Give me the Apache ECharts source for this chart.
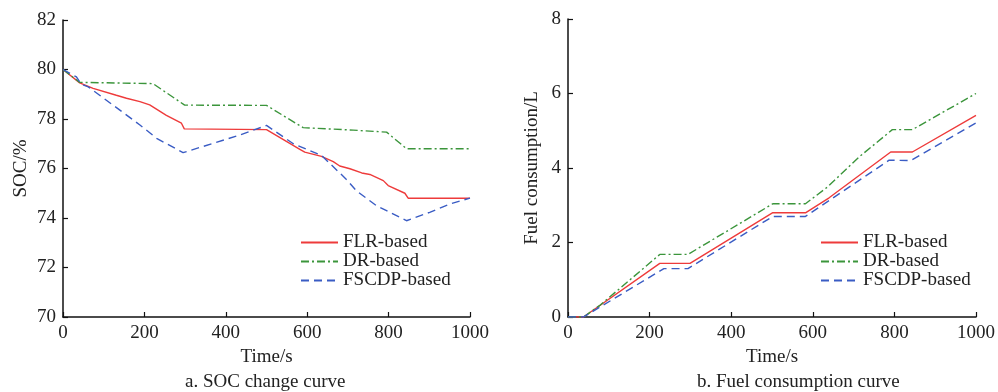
<!DOCTYPE html>
<html><head><meta charset="utf-8">
<script src="https://cdn.jsdelivr.net/npm/echarts@6/dist/echarts.min.js"></script>
<style>html,body{margin:0;padding:0;background:#fff}#c{width:998px;height:392px}</style>
</head><body><div id="c"></div>
<script>
// ---- Data: SOC (left) ----
const socFlrT = [0,41,74,131,156,189,213,254,291,298,500,582,594,635,664,680,705,734,754,787,799,840,848,1000];
const socFlrV = [80,79.46,79.24,78.96,78.84,78.7,78.57,78.15,77.83,77.6,77.57,76.77,76.66,76.49,76.28,76.1,75.99,75.82,75.76,75.51,75.31,75.0,74.8,74.8];
const socDrT = [0,41,221,299,500,590,713,795,844,1000];
const socDrV = [80,79.48,79.43,78.56,78.55,77.65,77.55,77.47,76.8,76.8];
const socFsT = [0,33,45,62,189,230,295,434,500,566,635,697,721,770,795,844,901,951,1000];
const socFsV = [80,79.7,79.4,79.3,77.76,77.22,76.64,77.35,77.74,77.0,76.53,75.55,75.1,74.5,74.3,73.89,74.23,74.57,74.8];
// ---- Data: Fuel (right) ----
const fuelFlrT = [0,38,225,299,502,583,640,791,844,1000];
const fuelFlrV = [0,0,1.44,1.44,2.8,2.8,3.2,4.43,4.43,5.41];
const fuelDrT = [0,38,79,225,294,502,582,636,714,795,844,1000];
const fuelDrV = [0,0,0.32,1.68,1.68,3.04,3.04,3.49,4.3,5.03,5.03,6.0];
const fuelFsT = [0,38,235,294,502,582,787,840,1000];
const fuelFsV = [0,0,1.3,1.3,2.7,2.7,4.21,4.2,5.21];
// ---- Labels ----
const names = ['FLR-based','DR-based','FSCDP-based'];
const xName = 'Time/s';
const yNameL = 'SOC/%';
const yNameR = 'Fuel consumption/L';
const capL = 'a. SOC change curve';
const capR = 'b. Fuel consumption curve';

const zip = (t, v) => t.map((x, i) => [x, v[i]]);
const FONT = "'Liberation Serif','Times New Roman',serif";
const colors = ['#ee3b3b', '#3b953b', '#3a5cc4'];
const styles = ['solid', [8,3,2,3], [8,5]];

const axisCommon = {
  axisLine: {show: true, onZero: false, lineStyle: {color: '#111', width: 1.5}},
  axisTick: {show: true, inside: true, length: 5, lineStyle: {color: '#111', width: 1.2}},
  splitLine: {show: false},
  axisLabel: {color: '#222', fontFamily: FONT, fontSize: 19, margin: 7, formatter: v => String(v)},
  nameTextStyle: {color: '#222', fontFamily: FONT, fontSize: 19}
};

function mkSeries(name, i, data, gi) {
  return {
    name, type: 'line', xAxisIndex: gi, yAxisIndex: gi, data,
    symbol: 'none', showSymbol: false, animation: false,
    lineStyle: {color: colors[i], width: 1.4, type: styles[i]},
    itemStyle: {color: colors[i]}
  };
}

const legendCommon = {orient: 'vertical', top: 233, padding: 0, itemGap: 0, itemWidth: 37, itemHeight: 10,
  data: names, itemStyle: {opacity: 0, borderWidth: 0},
  textStyle: {fontFamily: FONT, fontSize: 19, color: '#222', lineHeight: 19}};

const chart = echarts.init(document.getElementById('c'), null, {renderer: 'canvas'});
chart.setOption({
  backgroundColor: '#fff',
  animation: false,
  grid: [
    {left: 63, top: 20, width: 407, height: 297},
    {left: 568, top: 19, width: 409, height: 298}
  ],
  xAxis: [
    Object.assign({}, axisCommon, {type: 'value', gridIndex: 0, min: 0, max: 1000, interval: 200,
      name: xName, nameLocation: 'middle', nameGap: 29}),
    Object.assign({}, axisCommon, {type: 'value', gridIndex: 1, min: 0, max: 1000, interval: 200,
      name: xName, nameLocation: 'middle', nameGap: 29})
  ],
  yAxis: [
    Object.assign({}, axisCommon, {type: 'value', gridIndex: 0, min: 70, max: 82, interval: 2,
      name: yNameL, nameLocation: 'middle', nameGap: 32}),
    Object.assign({}, axisCommon, {type: 'value', gridIndex: 1, min: 0, max: 8, interval: 2,
      name: yNameR, nameLocation: 'middle', nameGap: 26})
  ],
  legend: [
    Object.assign({}, legendCommon, {left: 300}),
    Object.assign({}, legendCommon, {left: 820})
  ],
  graphic: [
    {type: 'text', left: 185, top: 373, style: {text: capL, font: "19px 'Liberation Serif', serif", fill: '#222'}},
    {type: 'text', left: 697, top: 373, style: {text: capR, font: "19px 'Liberation Serif', serif", fill: '#222'}}
  ],
  series: [
    mkSeries(names[0], 0, zip(socFlrT, socFlrV), 0),
    mkSeries(names[1], 1, zip(socDrT, socDrV), 0),
    mkSeries(names[2], 2, zip(socFsT, socFsV), 0),
    mkSeries(names[0], 0, zip(fuelFlrT, fuelFlrV), 1),
    mkSeries(names[1], 1, zip(fuelDrT, fuelDrV), 1),
    mkSeries(names[2], 2, zip(fuelFsT, fuelFsV), 1)
  ]
});
</script></body></html>
